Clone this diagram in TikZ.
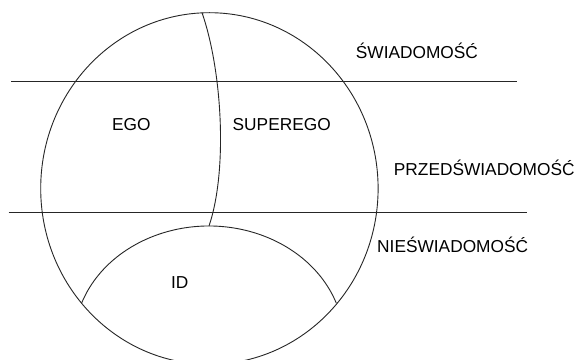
\documentclass[tikz,border=0pt]{standalone}
\usepackage{fontspec}
\setmainfont{Liberation Sans}
\begin{document}
\begin{tikzpicture}[x=1pt,y=1pt,
  stroke/.style={draw=black!85,line width=0.9pt},
  lbl/.style={anchor=base west,inner sep=0pt,font=\fontsize{17.3}{20}\selectfont}]
\fill[white] (0,0) rectangle (580,359);
\useasboundingbox (0,0) rectangle (580,359);
\begin{scope}
\clip (0,0) rectangle (580,359);
% big psyche outline
\draw[stroke] (209.4,170.5) ellipse [x radius=168.7pt, y radius=175.8pt];
% level lines
\coordinate (l1a) at (11,277.7);
\coordinate (l1b) at (517,277.7);
\coordinate (l2a) at (8.5,146.7);
\coordinate (l2b) at (526.5,146.7);
\draw[stroke] (l1a) -- (l1b);
\draw[stroke] (l2a) -- (l2b);
% ego / superego divider
\coordinate (dtop) at (202,346.3);
\coordinate (dbot) at (209,133);
\draw[stroke] (dtop) .. controls (222,289) and (228,189) .. (dbot);
% id arc
\coordinate (idl) at (81.7,56.05);
\draw[stroke] (idl) arc [start angle=160.5, end angle=19.5, x radius=135pt, y radius=115.5pt];
\end{scope}
% labels
\node[lbl] (swiad) at (355.7,300.5) {ŚWIADOMOŚĆ};
\node[lbl] (przed) at (393.7,183.3) {PRZEDŚWIADOMOŚĆ};
\node[lbl] (niesw) at (377,107) {NIEŚWIADOMOŚĆ};
\node[lbl] (ego) at (112,228.5) {EGO};
\node[lbl] (superego) at (232.5,228.5) {SUPEREGO};
\node[lbl] (id) at (170.8,70.7) {ID};
\end{tikzpicture}
\end{document}
